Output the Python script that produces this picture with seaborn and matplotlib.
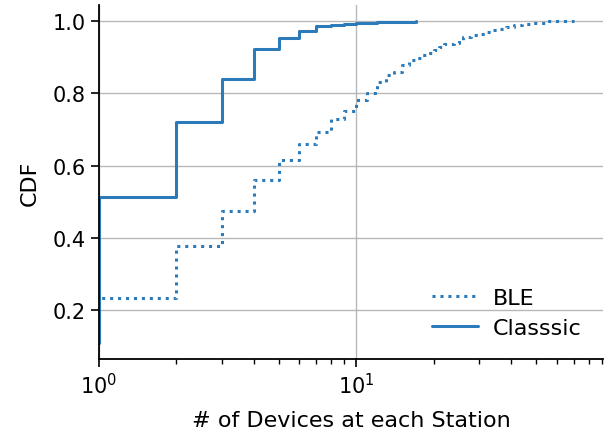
import matplotlib
matplotlib.use("Agg")
import matplotlib.pyplot as plt
import seaborn as sns
import pandas as pd

ble_x = [1, 1, 2, 3, 4, 5, 6, 7, 8, 9, 10, 11, 12, 13, 14, 15, 16, 17, 18, 19,
         20, 21, 22, 24, 25, 26, 28, 30, 32, 34, 36, 38, 41, 44, 48, 52, 55, 70]
ble_cdf = [0.109, 0.235, 0.378, 0.475, 0.560, 0.615, 0.659, 0.694, 0.729, 0.751,
           0.783, 0.802, 0.832, 0.852, 0.860, 0.878, 0.892, 0.897, 0.906, 0.912,
           0.920, 0.930, 0.938, 0.941, 0.947, 0.956, 0.961, 0.966, 0.970, 0.975,
           0.980, 0.984, 0.989, 0.992, 0.994, 0.995, 1.0, 1.0]

classic_x = [1, 1, 2, 3, 4, 5, 6, 7, 8, 9, 10, 12, 17]
classic_cdf = [0.109, 0.512, 0.721, 0.841, 0.922, 0.954, 0.974, 0.988, 0.990,
               0.993, 0.996, 0.998, 1.0]

series_names = ["BLE", "Classsic"]
x_label = "# of Devices at each Station"
y_label = "CDF"

df = pd.concat([
    pd.DataFrame({"x": ble_x, "cdf": ble_cdf, "tech": series_names[0]}),
    pd.DataFrame({"x": classic_x, "cdf": classic_cdf, "tech": series_names[1]}),
], ignore_index=True)

sns.set_style("ticks", rc={"text.color": "black", "axes.labelcolor": "black",
                           "xtick.color": "black", "ytick.color": "black",
                           "axes.edgecolor": "black"})
plt.rcParams["font.family"] = ["DejaVu Sans"]
plt.rcParams["font.size"] = 15

fig = plt.figure(figsize=(6.05, 4.31), dpi=100)
ax = fig.add_axes([0.163, 0.165, 0.834, 0.821])

color = "#2b7bba"
sns.lineplot(data=df, x="x", y="cdf", hue="tech", style="tech",
             palette={series_names[0]: color, series_names[1]: color},
             dashes={series_names[0]: (1, 1.6), series_names[1]: ""},
             estimator=None, drawstyle="steps-post", linewidth=2.2, ax=ax)

ax.set_xscale("log")
ax.set_xlim(1, 91)
ax.set_ylim(0.065, 1.045)
ax.set_yticks([0.2, 0.4, 0.6, 0.8, 1.0])
ax.grid(True, which="major", color="#b8b8b8", linewidth=1.0)
ax.set_axisbelow(True)
for s in ["top", "right"]:
    ax.spines[s].set_visible(False)
ax.tick_params(axis="both", which="major", labelsize=15, length=6, width=1.2,
               colors="black")
ax.tick_params(axis="x", which="minor", length=3.5, width=1.0, colors="black")
for s in ["left", "bottom"]:
    ax.spines[s].set_linewidth(1.3)
    ax.spines[s].set_color("black")
ax.set_xlabel(x_label, fontsize=16, labelpad=9, color="black")
ax.set_ylabel(y_label, fontsize=16, labelpad=9, color="black")

leg = ax.legend(loc="lower right", frameon=False, fontsize=16, handlelength=2.1,
                handletextpad=0.65, labelspacing=0.45,
                bbox_to_anchor=(0.997, 0.003), title=None)
for t in leg.get_texts():
    t.set_color("black")

fig.savefig("out.png", dpi=100)
